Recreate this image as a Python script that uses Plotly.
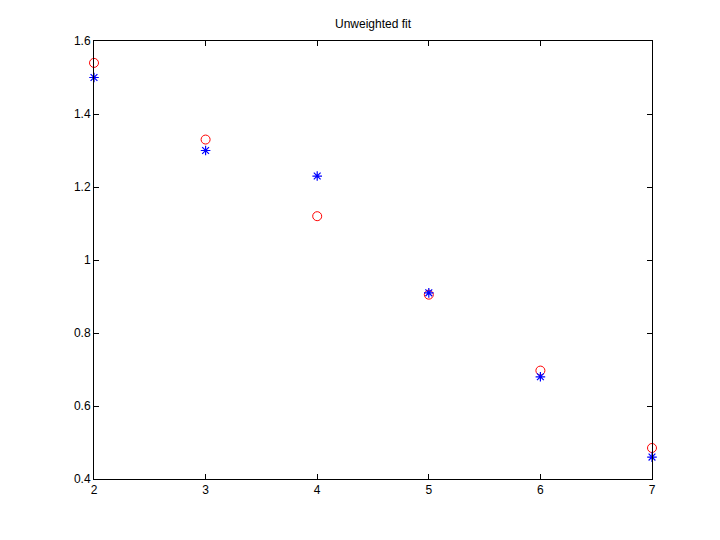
import plotly.graph_objects as go

x_vals = [2, 3, 4, 5, 6, 7]
y_fit = [1.54, 1.33, 1.12, 0.905, 0.697, 0.485]
y_data = [1.50, 1.30, 1.23, 0.91, 0.68, 0.46]

y_ticks = [0.4, 0.6, 0.8, 1.0, 1.2, 1.4, 1.6]
y_tick_text = ["0.4", "0.6", "0.8", "1", "1.2", "1.4", "1.6"]
x_ticks = [2, 3, 4, 5, 6, 7]

fig = go.Figure()
fig.add_trace(go.Scatter(
    x=x_vals, y=y_fit, mode="markers", cliponaxis=False,
    marker=dict(symbol="circle-open", size=9, color="red", line=dict(width=1, color="red")),
    showlegend=False))
fig.add_trace(go.Scatter(
    x=x_vals, y=y_data, mode="markers", cliponaxis=False,
    marker=dict(symbol="asterisk-open", size=8, color="blue", line=dict(width=1.2, color="blue")),
    showlegend=False))

axis_common = dict(
    showgrid=False, zeroline=False, showline=True, linecolor="black", linewidth=1,
    mirror="ticks", ticks="inside", ticklen=5, tickcolor="black",
    tickfont=dict(family="Liberation Sans, Arial, sans-serif", size=12, color="black"),
)

fig.update_layout(
    width=720, height=540,
    margin=dict(l=86, r=76, t=33, b=69),
    paper_bgcolor="white", plot_bgcolor="white",
    title=dict(text="Unweighted fit", x=(86 + 644) / 2 / 720, xanchor="center",
               y=1 - 16 / 540, yanchor="middle",
               font=dict(family="Liberation Sans, Arial, sans-serif", size=12, color="black")),
    xaxis=dict(range=[2, 7], tickvals=x_ticks, **axis_common),
    yaxis=dict(range=[0.4, 1.6], tickvals=y_ticks, ticktext=y_tick_text, **axis_common),
)

fig.write_html("out.html")
